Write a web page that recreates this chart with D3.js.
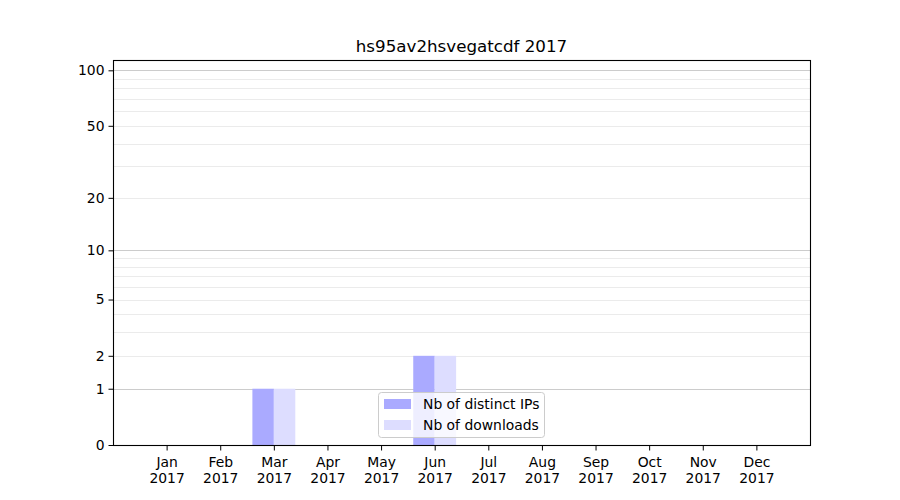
<!DOCTYPE html>
<html><head><meta charset="utf-8">
<script src="https://cdn.jsdelivr.net/npm/d3@7"></script>
<style>body{margin:0;background:#fff}svg{font-family:"DejaVu Sans",sans-serif}</style>
</head><body><svg id="c" width="900" height="500"></svg>
<script>
const months = ["Jan","Feb","Mar","Apr","May","Jun","Jul","Aug","Sep","Oct","Nov","Dec"];
const year = "2017";
const distinctIPs = [0,0,1,0,0,2,0,0,0,0,0,0];
const downloads   = [0,0,1,0,0,2,0,0,0,0,0,0];
const yTicks = [0,1,2,5,10,20,50,100];
const majorGrid = [1,10,100];
const minorGrid = [2,3,4,5,6,7,8,9,20,30,40,50,60,70,80,90];
const title = "hs95av2hsvegatcdf 2017";
const seriesNames = ["Nb of distinct IPs","Nb of downloads"];
const colors = ["#aaaaff","#ddddff"];

const L=113,R=810,T=60,B=445;
const svg=d3.select("#c");
const x=d3.scalePoint().domain(months).range([L,R]).padding(1);
const y=d3.scaleSymlog().constant(1).domain([0,113.7]).range([B,T]);
const step=x.step(), bw=step*0.4;

// grid
svg.append("g").selectAll("line").data(minorGrid).join("line")
  .attr("x1",L).attr("x2",R).attr("y1",d=>Math.round(y(d))+0.5).attr("y2",d=>Math.round(y(d))+0.5)
  .attr("stroke","#ebebeb").attr("stroke-width",1);
svg.append("g").selectAll("line").data(majorGrid).join("line")
  .attr("x1",L).attr("x2",R).attr("y1",d=>Math.round(y(d))+0.5).attr("y2",d=>Math.round(y(d))+0.5)
  .attr("stroke","#cccccc").attr("stroke-width",1);

// bars
const series=[distinctIPs,downloads];
series.forEach((vals,si)=>{
  svg.append("g").selectAll("rect").data(months.map((m,i)=>({m,v:vals[i]})).filter(d=>d.v>0)).join("rect")
    .attr("x",d=>x(d.m)-bw+si*bw).attr("width",bw)
    .attr("y",d=>y(d.v)).attr("height",d=>y(0)-y(d.v))
    .attr("fill",colors[si]);
});

// frame
svg.append("rect").attr("x",L+0.5).attr("y",T+0.5).attr("width",R-L).attr("height",B-T)
  .attr("fill","none").attr("stroke","#000").attr("stroke-width",1.1);

// y axis
const ya=svg.append("g").attr("transform",`translate(${L+0.5},0)`)
  .call(d3.axisLeft(y).tickValues(yTicks).tickFormat(d3.format("d")).tickSize(5).tickPadding(4));
ya.select(".domain").remove();
ya.selectAll("text").attr("font-size","13.9px").attr("fill","#000").attr("font-family","DejaVu Sans");
ya.selectAll("line").attr("stroke","#000");

// x axis
const xa=svg.append("g").attr("transform",`translate(0,${B+0.5})`)
  .call(d3.axisBottom(x).tickSize(5).tickFormat(""));
xa.select(".domain").remove();
xa.selectAll("line").attr("stroke","#000");
xa.selectAll(".tick").each(function(d){
  const t=d3.select(this).append("text").attr("fill","#000").attr("font-size","13.9px")
    .attr("font-family","DejaVu Sans").attr("text-anchor","middle");
  t.append("tspan").attr("x",0).attr("y",21).text(d);
  t.append("tspan").attr("x",0).attr("y",37).text(year);
});

// title
svg.append("text").attr("x",(L+R)/2).attr("y",52).attr("text-anchor","middle")
  .attr("font-size","16.7px").attr("fill","#000").text(title);

// legend
const lg=svg.append("g");
lg.append("rect").attr("x",378.5).attr("y",392.5).attr("width",166).attr("height",45).attr("rx",3)
  .attr("fill","#fff").attr("fill-opacity",0.8).attr("stroke","#cccccc");
seriesNames.forEach((n,i)=>{
  lg.append("rect").attr("x",384).attr("y",399+i*21).attr("width",27).attr("height",10).attr("fill",colors[i]);
  lg.append("text").attr("x",423).attr("y",409+i*21).attr("font-size","13.9px").attr("fill","#000").text(n);
});
</script></body></html>
